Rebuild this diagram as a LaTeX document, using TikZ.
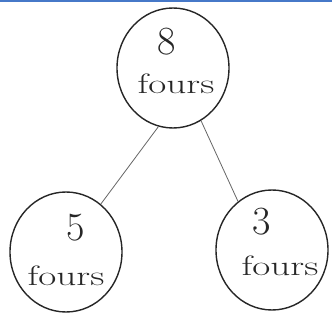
\documentclass[tikz,border=0pt]{standalone}
\usepackage{graphicx}
\usetikzlibrary{shapes.geometric}
\newcommand{\widetext}[1]{\scalebox{1.4}[1]{#1}}
\begin{document}
\begin{tikzpicture}[x=1pt,y=-1pt,
  bubble/.style={draw=black!85, line width=1.4pt, shape=ellipse, inner sep=0pt, minimum width=112pt, minimum height=120pt},
  num/.style={font=\fontsize{40}{44}\selectfont, text=black!85},
  word/.style={font=\fontsize{28}{32}\selectfont, text=black!85},
  link/.style={draw=black!60, line width=0.8pt}]
\useasboundingbox (0,0) rectangle (332,320);
\fill[white] (0,0) rectangle (332,320);
\draw[line width=2pt, draw={rgb,255:red,70;green,120;blue,200}] (0,1) -- (332,1);
% circles
\node[bubble] (top) at (173,68) {};
\node[bubble] (left) at (66,252) {};
\node[bubble] (right) at (272,250) {};
\draw[link] (top.256) -- (left.54);
\draw[link] (top.298) -- (right.125);
\node[num] (n8) at (167,42) {8};
\node[word] (w8) at (176,84) {\widetext{fours}};
\node[num] (n5) at (76,228) {5};
\node[word] (w5) at (66,276) {\widetext{fours}};
\node[num] (n3) at (262,222) {3};
\node[word] (w3) at (280,266) {\widetext{fours}};
\end{tikzpicture}
\end{document}
